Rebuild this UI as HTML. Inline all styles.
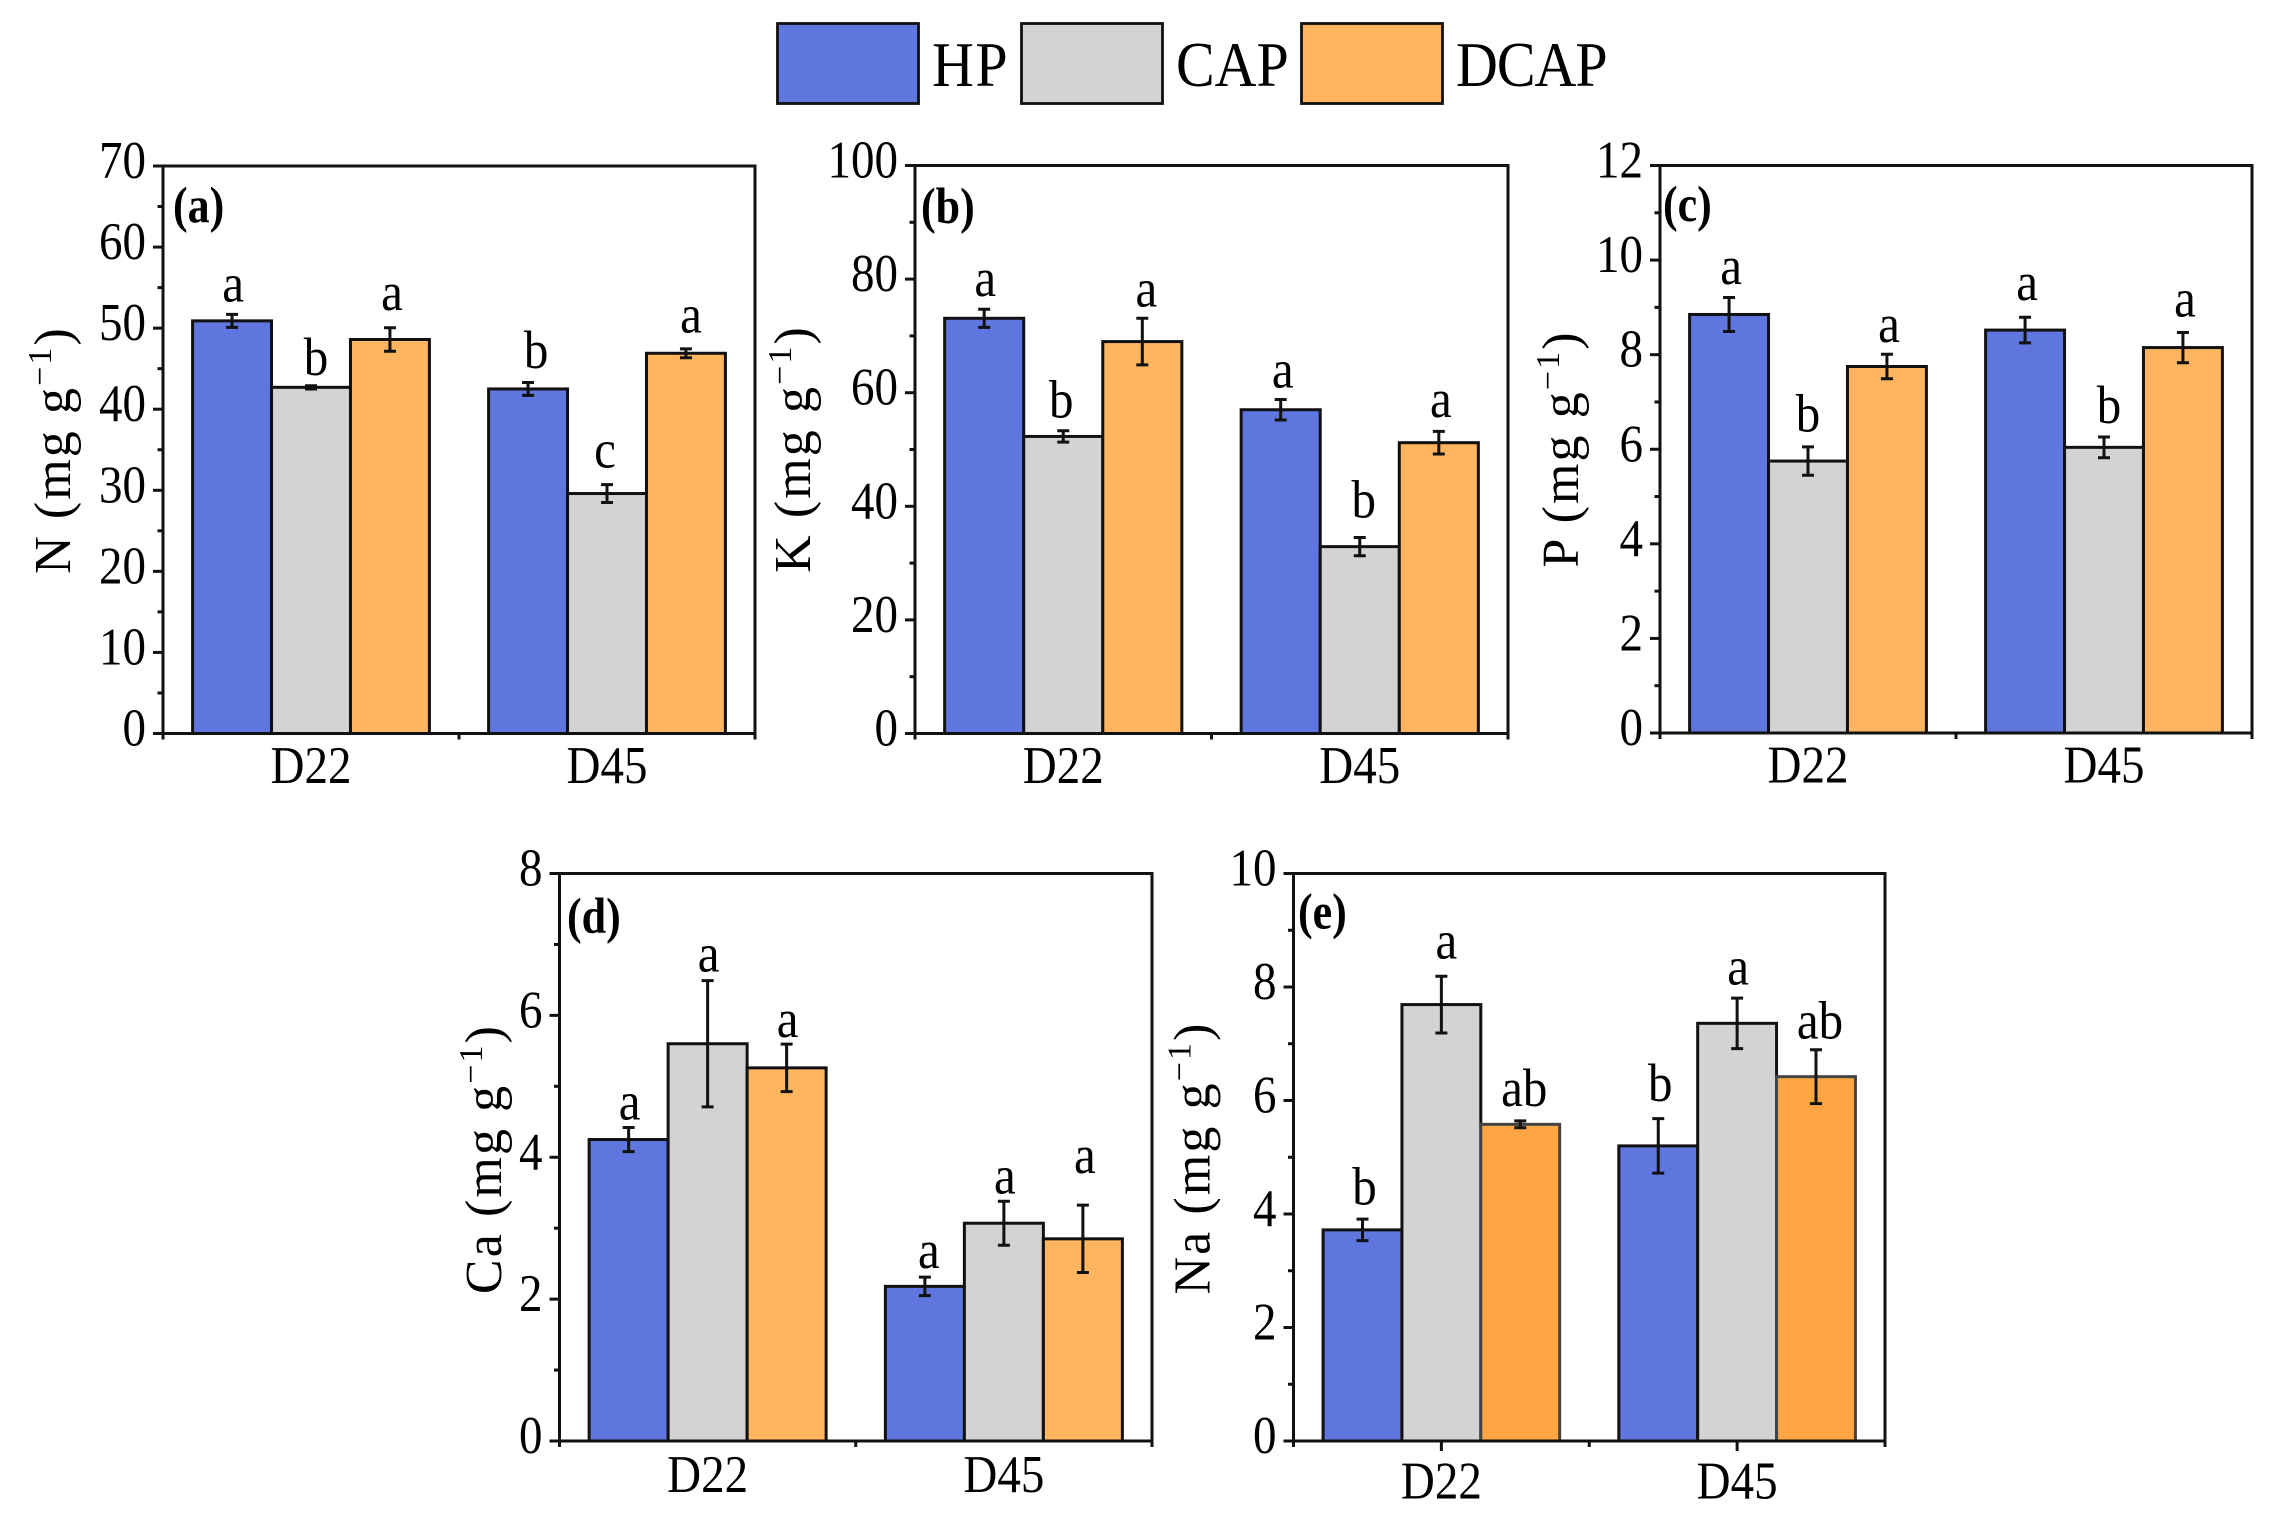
<!DOCTYPE html>
<html lang="en">
<head>
<meta charset="utf-8">
<title>Nutrient content by treatment</title>
<style>
html,body{margin:0;padding:0;background:#fff;}
svg{display:block;}
text{font-family:"Liberation Serif",serif;fill:#000;}
</style>
</head>
<body>
<svg id="figure" xmlns="http://www.w3.org/2000/svg" width="2274" height="1521" viewBox="0 0 2274 1521">
  <rect width="2274" height="1521" fill="#fff"/>
  <g>
    <rect x="777.5" y="23.5" width="141" height="80" fill="#5F76DE" stroke="#111" stroke-width="2.8"/>
    <text transform="translate(932 86) scale(1 1.1)" letter-spacing="1.5" font-size="58">HP</text>
    <rect x="1021.5" y="23.5" width="141" height="80" fill="#D3D3D3" stroke="#111" stroke-width="2.8"/>
    <text transform="translate(1176 86) scale(1 1.1)" font-size="58">CAP</text>
    <rect x="1301.5" y="23.5" width="141" height="80" fill="#FFB45F" stroke="#111" stroke-width="2.8"/>
    <text transform="translate(1456 86) scale(1 1.1)" letter-spacing="-1" font-size="58">DCAP</text>
  </g>
</svg>
<script>
const categories = ['D22', 'D45'];
const seriesNames = ['HP', 'CAP', 'DCAP'];

const nTicks = [0, 10, 20, 30, 40, 50, 60, 70];
const nValues = [[50.9, 42.7, 48.6], [42.5, 29.6, 46.9]];
const nErrors = [[0.8, 0.2, 1.45], [0.8, 1.1, 0.55]];
const nLetters = [['a', 'b', 'a'], ['b', 'c', 'a']];
const nLetterLift = [[1.6, 1.3, 2.2], [1.8, 2.1, 2.0]];

const kTicks = [0, 20, 40, 60, 80, 100];
const kValues = [[73.1, 52.3, 69.0], [57.0, 32.9, 51.2]];
const kErrors = [[1.6, 1.0, 4.1], [1.8, 1.6, 2.0]];
const kLetters = [['a', 'b', 'a'], ['a', 'b', 'a']];
const kLetterLift = [[2.3, 2.3, 2.1], [2.1, 3.5, 2.5]];

const pTicks = [0, 2, 4, 6, 8, 10, 12];
const pValues = [[8.85, 5.75, 7.75], [8.52, 6.04, 8.15]];
const pErrors = [[0.36, 0.30, 0.26], [0.27, 0.22, 0.32]];
const pLetters = [['a', 'b', 'a'], ['a', 'b', 'a']];
const pLetterLift = [[0.28, 0.33, 0.26], [0.37, 0.29, 0.34]];

const caTicks = [0, 2, 4, 6, 8];
const caValues = [[4.25, 5.60, 5.26], [2.18, 3.07, 2.85]];
const caErrors = [[0.17, 0.89, 0.335], [0.13, 0.31, 0.475]];
const caLetters = [['a', 'a', 'a'], ['a', 'a', 'a']];
const caLetterLift = [[0.11, 0.13, 0.10], [0.13, 0.11, 0.45]];

const naTicks = [0, 2, 4, 6, 8, 10];
const naValues = [[3.72, 7.69, 5.58], [5.20, 7.36, 6.42]];
const naErrors = [[0.19, 0.50, 0.06], [0.48, 0.445, 0.475]];
const naLetters = [['b', 'a', 'ab'], ['b', 'a', 'ab']];
const naLetterLift = [[0.26, 0.31, 0.26], [0.31, 0.24, 0.20]];

const svg = document.getElementById('figure');
const NS = 'http://www.w3.org/2000/svg';

function make(parent, tag, attrs, txt) {
  const el = document.createElementNS(NS, tag);
  for (const k in attrs) el.setAttribute(k, attrs[k]);
  if (txt !== undefined) el.textContent = txt;
  parent.appendChild(el);
  return el;
}

function place(x, y, sy) {
  return 'translate(' + x + ' ' + y + ') scale(1 ' + sy + ')';
}

function drawPanel(p) {
  const g = make(svg, 'g', {});
  
  

  const W = p.x1 - p.x0;
  const yMax = p.ticks[p.ticks.length - 1];
  const yScale = v => p.y1 - (v / yMax) * (p.y1 - p.y0);
  const catW = W / categories.length;
  const barW = catW * 0.8 / seriesNames.length;
  const barX = (c, s) => p.x0 + catW * c + catW * 0.1 + barW * s;
  const lw = 3;

  // bars
  categories.forEach((cat, c) => {
    seriesNames.forEach((name, s) => {
      const top = yScale(p.values[c][s]);
      const bar = make(g, 'rect', {
        x: barX(c, s), y: top, width: barW, height: p.y1 - top,
        fill: p.colors[s], stroke: s === 2 && p.key === 'e' ? '#444' : '#111', 'stroke-width': lw
      });
      
      
    });
  });

  // error bars and significance letters
  categories.forEach((cat, c) => {
    seriesNames.forEach((name, s) => {
      const cx = barX(c, s) + barW / 2;
      const hi = yScale(p.values[c][s] + p.errors[c][s]);
      const lo = yScale(p.values[c][s] - p.errors[c][s]);
      const err = make(g, 'path', {
        d: 'M' + (cx - 6) + ' ' + hi + 'H' + (cx + 6) + 'M' + cx + ' ' + hi + 'V' + lo + 'M' + (cx - 6) + ' ' + lo + 'H' + (cx + 6),
        fill: 'none', stroke: '#111', 'stroke-width': 3
      });
      
      

      const letterX = cx + 1 + p.nudge[c][s];
      const letterY = yScale(p.values[c][s] + p.errors[c][s] + p.lift[c][s]);
      const letter = make(g, 'text', {
        transform: place(letterX, letterY, 1.1),
        'font-size': 49, 'text-anchor': 'middle'
      }, p.letters[c][s]);
      
      
    });
  });

  // plot frame
  const frame = make(g, 'rect', {
    x: p.x0, y: p.y0, width: W, height: p.y1 - p.y0, fill: 'none', stroke: '#111', 'stroke-width': lw
  });
  
  

  // y ticks
  p.ticks.forEach((t, i) => {
    const y = yScale(t);
    const tick = make(g, 'line', { x1: p.x0 - 10, x2: p.x0, y1: y, y2: y, stroke: '#111', 'stroke-width': lw });
    
    

    const label = make(g, 'text', {
      transform: place(p.x0 - 17, y + 12, 1.13), 'font-size': 47, 'text-anchor': 'end'
    }, String(t));
    
    

    if (i < p.ticks.length - 1) {
      const my = yScale((t + p.ticks[i + 1]) / 2);
      const minor = make(g, 'line', { x1: p.x0 - 5.5, x2: p.x0, y1: my, y2: my, stroke: '#111', 'stroke-width': lw });
      
      
    }
  });

  // x ticks
  for (let i = 0; i <= categories.length; i++) {
    const x = p.x0 + catW * i;
    const tick = make(g, 'line', { x1: x, x2: x, y1: p.y1, y2: p.y1 + 6, stroke: '#111', 'stroke-width': lw });
    
    
  }
  categories.forEach((cat, c) => {
    const cx = p.x0 + catW * (c + 0.5);
    if (p.centerTicks) {
      const tick = make(g, 'line', { x1: cx, x2: cx, y1: p.y1, y2: p.y1 + 10, stroke: '#111', 'stroke-width': lw });
      
      
    }
    const label = make(g, 'text', {
      transform: place(cx, p.y1 + p.xLabelOffset, 1.13), 'font-size': 47, 'text-anchor': 'middle'
    }, cat);
    
    
  });

  // y-axis title
  const title = make(g, 'text', {
    transform: 'translate(' + p.titleX + ' ' + p.titleY + ') rotate(-90)',
    'font-size': 52, 'text-anchor': 'middle', 'letter-spacing': 2.1
  });
  
  
  const t1 = make(title, 'tspan', {}, p.element + ' (mg g');
  
  
  const t2 = make(title, 'tspan', { dy: -19, 'font-size': 34 }, '\u22121');
  
  
  const t3 = make(title, 'tspan', { dy: 19 }, ')');
  
  

  // panel tag
  const tag = make(g, 'text', {
    transform: place(p.tagX, p.tagY, 1.15), 'font-size': 44, 'font-weight': 'bold'
  }, '(' + p.key + ')');
  
  
}

const baseColors = ['#5F76DE', '#D3D3D3', '#FFB45F'];
const naColors = ['#5F76DE', '#D3D3D3', '#FFA644'];

drawPanel({ key: 'a', element: 'N', x0: 163, x1: 755, y0: 166, y1: 733.5, ticks: nTicks,
  values: nValues, errors: nErrors, letters: nLetters, lift: nLetterLift, colors: baseColors,
  nudge: [[0, 4, 1], [7, -3, 4]],
  titleX: 70, titleY: 450, tagX: 173, tagY: 222, xLabelOffset: 49.5 });
drawPanel({ key: 'b', element: 'K', x0: 915, x1: 1508, y0: 165.5, y1: 733.5, ticks: kTicks,
  values: kValues, errors: kErrors, letters: kLetters, lift: kLetterLift, colors: baseColors,
  nudge: [[0, -3, 3], [1, 3, 1]],
  titleX: 810, titleY: 449, tagX: 921, tagY: 223, xLabelOffset: 49.5 });
drawPanel({ key: 'c', element: 'P', x0: 1660, x1: 2252, y0: 165.5, y1: 733, ticks: pTicks,
  values: pValues, errors: pErrors, letters: pLetters, lift: pLetterLift, colors: baseColors,
  nudge: [[1, -1, 1], [1, 4, 1]],
  titleX: 1578, titleY: 449, tagX: 1663, tagY: 221, xLabelOffset: 49.5 });
drawPanel({ key: 'd', element: 'Ca', x0: 559.5, x1: 1152, y0: 873.5, y1: 1441, ticks: caTicks,
  values: caValues, errors: caErrors, letters: caLetters, lift: caLetterLift, colors: baseColors,
  nudge: [[0, 0, 0], [3, 0, 1]],
  titleX: 501, titleY: 1159, tagX: 567, tagY: 933, xLabelOffset: 51 });
drawPanel({ key: 'e', element: 'Na', x0: 1293.5, x1: 1885, y0: 873.5, y1: 1441, ticks: naTicks,
  values: naValues, errors: naErrors, letters: naLetters, lift: naLetterLift, colors: naColors,
  nudge: [[1, 4, 3], [1, 0, 3]],
  titleX: 1209.5, titleY: 1158, tagX: 1298, tagY: 928.5, xLabelOffset: 57.5, centerTicks: true });
</script>
</body>
</html>
